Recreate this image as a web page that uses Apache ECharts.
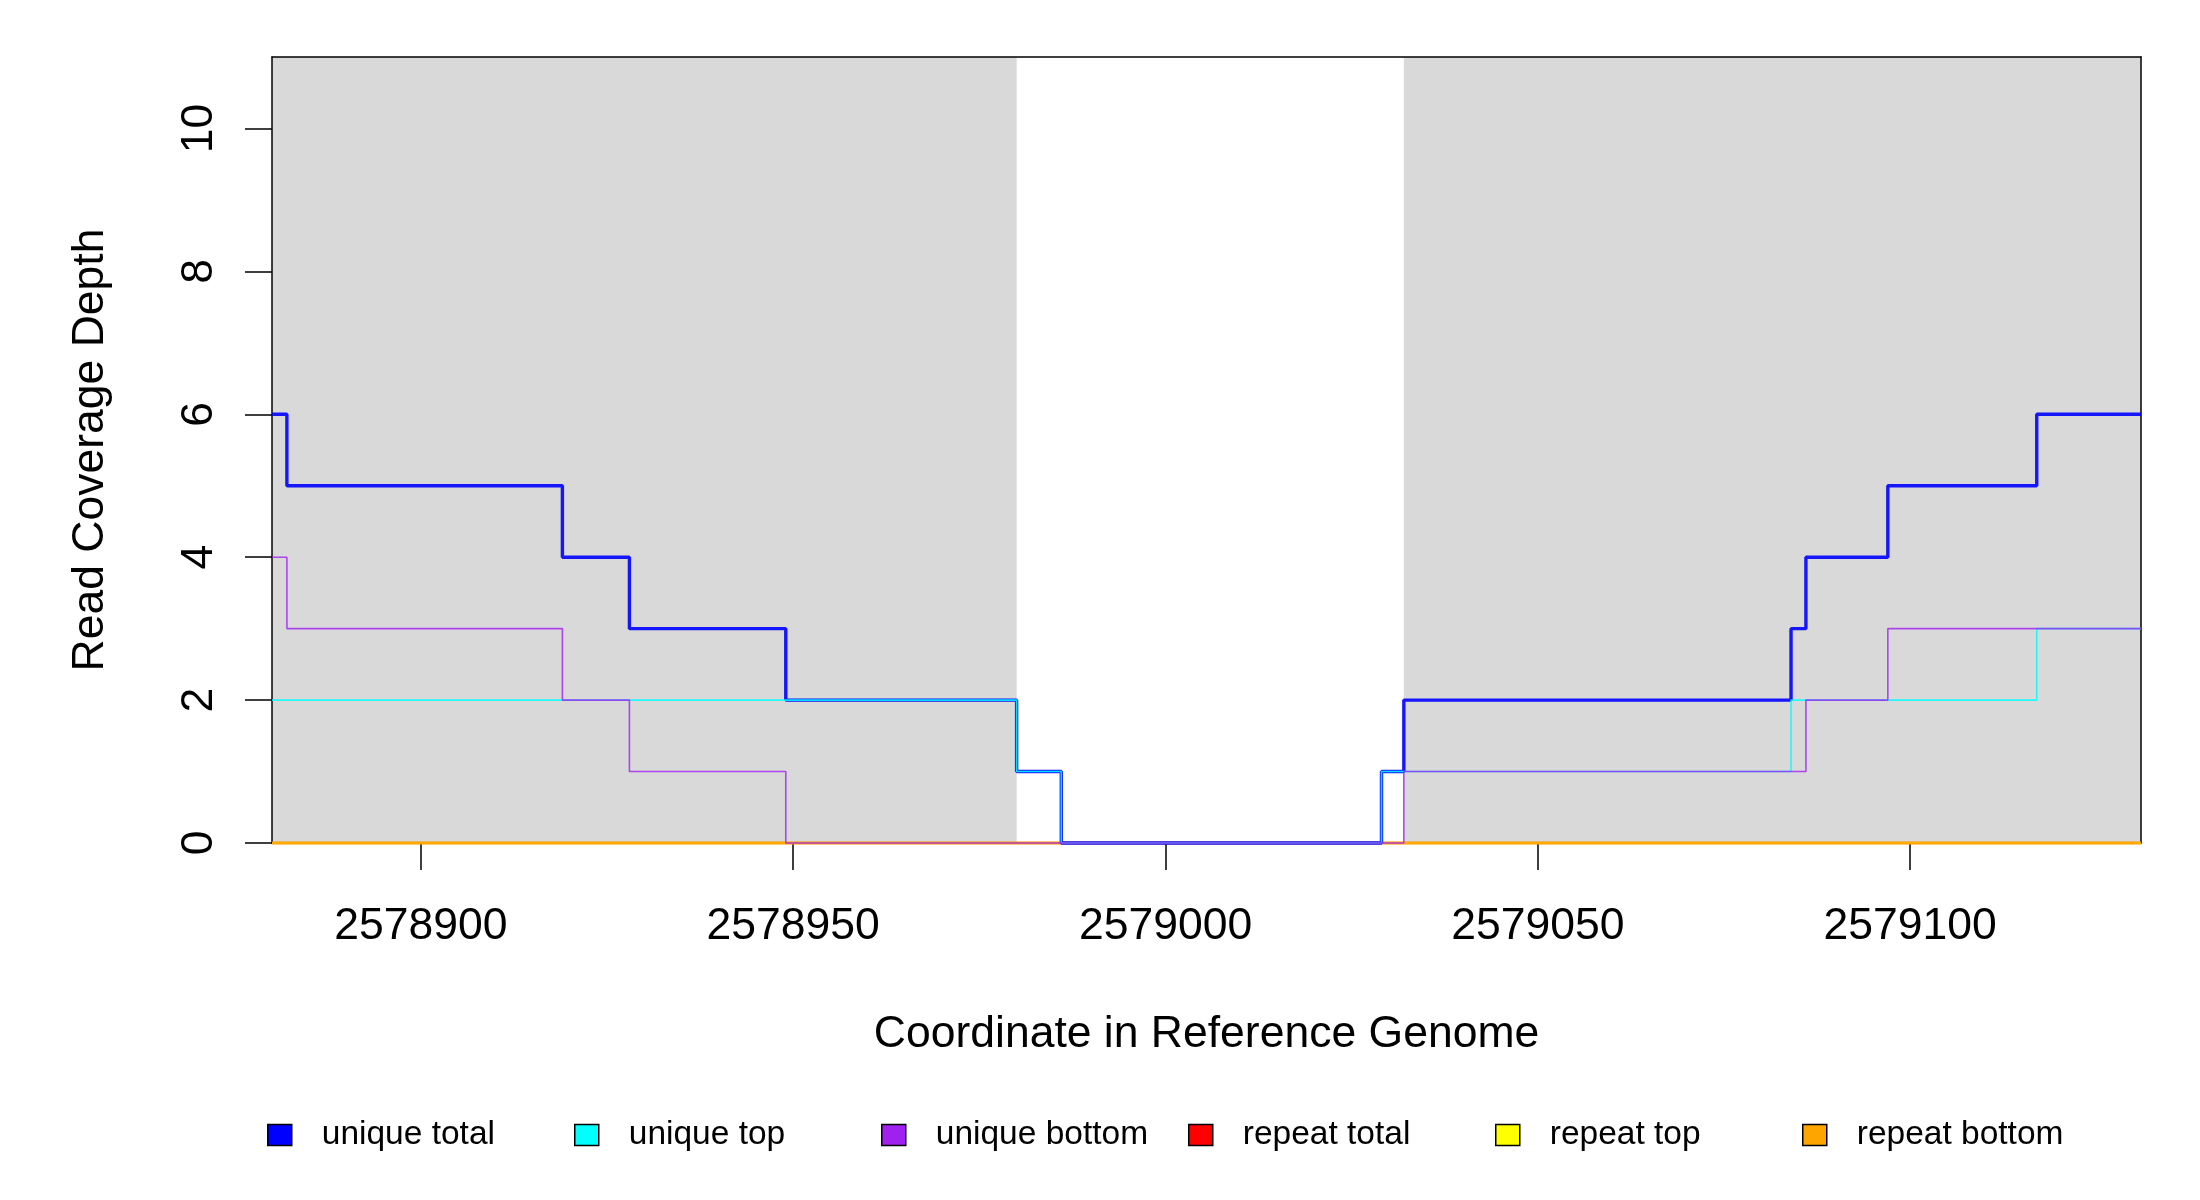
<!DOCTYPE html>
<html>
<head>
<meta charset="utf-8">
<script src="https://cdn.jsdelivr.net/npm/echarts@6/dist/echarts.min.js"></script>
<style>
html,body{margin:0;padding:0;background:#fff;}
#chart{width:2200px;height:1200px;}
</style>
</head>
<body>
<div id="chart"></div>
<script>
// Breakpoints (genome coordinate where each step begins; last = right end)
const positions = [2578880, 2578882, 2578919, 2578928, 2578949, 2578980, 2578986, 2579029, 2579032, 2579084, 2579086, 2579097, 2579117, 2579131];
const uniqueTotal  = [6, 5, 4, 3, 2, 1, 0, 1, 2, 3, 4, 5, 6, 6];
const uniqueTop    = [2, 2, 2, 2, 2, 1, 0, 1, 1, 2, 2, 2, 3, 3];
const uniqueBottom = [4, 3, 2, 1, 0, 0, 0, 0, 1, 1, 2, 3, 3, 3];
const repeatTotal  = [0, 0, 0, 0, 0, 0, 0, 0, 0, 0, 0, 0, 0, 0];
const repeatTop    = [0, 0, 0, 0, 0, 0, 0, 0, 0, 0, 0, 0, 0, 0];
const repeatBottom = [0, 0, 0, 0, 0, 0, 0, 0, 0, 0, 0, 0, 0, 0];

// Shaded (grey) regions
const shadeStart = [2578880, 2579032];
const shadeEnd   = [2578980, 2579131];

const xTicks = [2578900, 2578950, 2579000, 2579050, 2579100];
const yTicks = [0, 2, 4, 6, 8, 10];
const xRange = [2578880, 2579131];
const yRange = [0, 11];

const legendNames = ['unique total', 'unique top', 'unique bottom', 'repeat total', 'repeat top', 'repeat bottom'];
const legendColors = ['#0000FF', '#00FFFF', '#A020F0', '#FF0000', '#FFFF00', '#FFA500'];

const FONT = "'Liberation Sans', Arial, sans-serif";

function pts(vals) { return positions.map((p, i) => [p, vals[i]]); }

const seriesDefs = [
  {name: 'repeat total',  vals: repeatTotal,  color: '#FF0000', w: 2.6, o: 0.85},
  {name: 'repeat top',    vals: repeatTop,    color: '#FFFF00', w: 2.6, o: 0.85},
  {name: 'repeat bottom', vals: repeatBottom, color: '#FFA500', w: 2.6, o: 0.9},
  {name: 'unique total',  vals: uniqueTotal,  color: '#0000FF', w: 3.4, o: 0.9},
  {name: 'unique top',    vals: uniqueTop,    color: '#00FFFF', w: 1.6, o: 0.85},
  {name: 'unique bottom', vals: uniqueBottom, color: '#A020F0', w: 1.6, o: 0.8}
];

const series = [{
  name: 'shade', type: 'line', data: [], silent: true,
  markArea: {
    silent: true,
    itemStyle: {color: '#D9D9D9', opacity: 1},
    data: shadeStart.map((s, i) => [{xAxis: s}, {xAxis: shadeEnd[i]}])
  }
}].concat(seriesDefs.map(d => ({
  name: d.name,
  type: 'line',
  step: 'end',
  data: pts(d.vals),
  showSymbol: false,
  symbol: 'none',
  clip: false,
  z: 3,
  color: d.color,
  itemStyle: {color: d.color},
  lineStyle: {color: d.color, width: d.w, opacity: d.o},
  emphasis: {disabled: true},
  animation: false
})));

const legends = legendNames.map((n, i) => ({
  data: [{name: n, icon: 'rect', itemStyle: {color: legendColors[i], borderColor: '#000', borderWidth: 1.5, opacity: 1}}],
  left: 267 + i * 307,
  top: 1118,
  padding: 0,
  itemWidth: 24,
  itemHeight: 21,
  selectedMode: false,
  textStyle: {fontSize: 33.5, fontFamily: FONT, color: '#000', padding: [0, 0, 0, 25]}
}));

const option = {
  backgroundColor: '#fff',
  animation: false,
  grid: {left: 272, right: 59, top: 57, bottom: 357, containLabel: false},
  legend: legends,
  xAxis: [{
    type: 'value', min: xRange[0], max: xRange[1], position: 'bottom', z: 1.5,
    name: 'Coordinate in Reference Genome', nameLocation: 'middle', nameGap: 169,
    nameTextStyle: {fontSize: 44.5, fontFamily: FONT, color: '#000'},
    axisLine: {show: true, onZero: false, lineStyle: {color: '#000', width: 1.5}},
    axisTick: {show: true, customValues: xTicks, length: 27, lineStyle: {color: '#000', width: 1.5}},
    axisLabel: {show: true, customValues: xTicks, margin: 61, fontSize: 44.5, fontFamily: FONT, color: '#000',
      formatter: v => String(v)},
    splitLine: {show: false}
  }, {
    type: 'value', min: xRange[0], max: xRange[1], position: 'top', z: 1.5,
    axisLine: {show: true, onZero: false, lineStyle: {color: '#000', width: 1.5}},
    axisTick: {show: false}, axisLabel: {show: false}, splitLine: {show: false}
  }],
  yAxis: [{
    type: 'value', min: yRange[0], max: yRange[1], position: 'left', z: 1.5,
    name: 'Read Coverage Depth', nameLocation: 'middle', nameGap: 159,
    nameTextStyle: {fontSize: 44.5, fontFamily: FONT, color: '#000'},
    axisLine: {show: true, onZero: false, lineStyle: {color: '#000', width: 1.5}},
    axisTick: {show: true, customValues: yTicks, length: 27, lineStyle: {color: '#000', width: 1.5}},
    axisLabel: {show: true, customValues: yTicks, rotate: 90, margin: 50, fontSize: 44.5, fontFamily: FONT, color: '#000',
      formatter: v => String(v)},
    splitLine: {show: false}
  }, {
    type: 'value', min: yRange[0], max: yRange[1], position: 'right', z: 1.5,
    axisLine: {show: true, onZero: false, lineStyle: {color: '#000', width: 1.5}},
    axisTick: {show: false}, axisLabel: {show: false}, splitLine: {show: false}
  }],
  series: series
};

const chart = echarts.init(document.getElementById('chart'), null, {renderer: 'canvas'});
chart.setOption(option);
</script>
</body>
</html>
